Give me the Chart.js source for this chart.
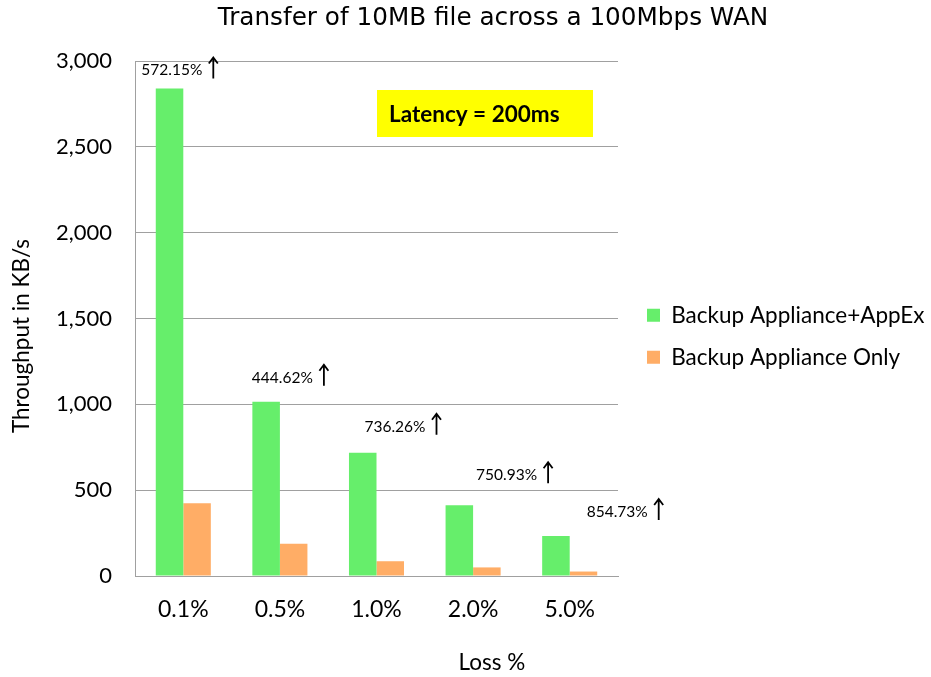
<!DOCTYPE html>
<html><head><meta charset="utf-8">
<script src="https://cdn.jsdelivr.net/npm/chart.js@4/dist/chart.umd.min.js"></script>
<style>html,body{margin:0;padding:0;background:#fff}</style>
</head><body>
<canvas id="c" width="931" height="677"></canvas>
<script>
// ---- data ----
const categories = ['0.1%', '0.5%', '1.0%', '2.0%', '5.0%'];
const withAppEx = [2840, 1015, 718, 412, 233];
const applianceOnly = [424, 188, 86, 50, 26];
const gainLabels = ['572.15%', '444.62%', '736.26%', '750.93%', '854.73%'];
const seriesNames = ['Backup Appliance+AppEx', 'Backup Appliance Only'];
const yTicks = [0, 500, 1000, 1500, 2000, 2500, 3000];
const chartTitle = 'Transfer of 10MB file across a 100Mbps WAN';
const yTitle = 'Throughput in KB/s';
const xTitle = 'Loss %';
const noteText = 'Latency = 200ms';

// ---- styling / layout ----
const GREEN = '#66ee6b';
const ORANGE = '#ffad66';
const GRID = '#a0a0a0';
const BODY_FONT = 'Lato, sans-serif';

Chart.defaults.font.family = BODY_FONT;
Chart.defaults.color = '#000';

const extras = {
  id: 'extras',
  afterLayout(chart, args, o) {
    const lg = chart.legend;
    if (lg) {
      const pad = lg.options.labels.padding;
      lg.left = o.legendX - pad; lg.right = chart.width;
      lg.top = o.legendY - pad; lg.bottom = chart.height;
    }
  },
  afterDraw(chart, args, o) {
    const c = chart.ctx, a = chart.chartArea;
    const xs = chart.scales.x, ys = chart.scales.y;
    c.save();
    c.fillStyle = '#000';
    c.textAlign = 'center'; c.textBaseline = 'middle';
    c.font = o.titleFont;
    c.fillText(chartTitle, o.titleX, o.titleY);
    c.font = o.axisFont;
    c.fillText(xTitle, o.xTitleX, o.xTitleY);
    c.save();
    c.translate(o.yTitleX, o.yTitleY);
    c.rotate(-Math.PI / 2);
    c.fillText(yTitle, 0, 0);
    c.restore();
    const bx = a.left + o.note.dx, by = a.top + o.note.dy;
    c.fillStyle = '#ffff00';
    c.fillRect(bx, by, o.note.w, o.note.h);
    c.fillStyle = '#000';
    c.font = o.noteFont;
    c.textAlign = 'left';
    c.fillText(noteText, bx + o.note.tx, by + o.note.h / 2 + 1);
    c.font = o.gainFont;
    c.textAlign = 'right';
    c.strokeStyle = '#000';
    c.lineWidth = 1.8;
    gainLabels.forEach((t, i) => {
      const x = xs.getPixelForValue(i) + o.gainDx[i];
      const y = ys.getPixelForValue(withAppEx[i]) + o.gainDy[i];
      c.fillText(t, x, y);
      const ax = x + 11;
      c.beginPath();
      c.moveTo(ax, y + 8); c.lineTo(ax, y - 12);
      c.moveTo(ax - 4.5, y - 7); c.lineTo(ax, y - 13); c.lineTo(ax + 4.5, y - 7);
      c.stroke();
    });
    c.restore();
  }
};

new Chart(document.getElementById('c'), {
  type: 'bar',
  data: {
    labels: categories,
    datasets: [
      { label: seriesNames[0], data: withAppEx, backgroundColor: GREEN, borderWidth: 0 },
      { label: seriesNames[1], data: applianceOnly, backgroundColor: ORANGE, borderWidth: 0 }
    ]
  },
  options: {
    responsive: false,
    devicePixelRatio: 1,
    animation: false,
    layout: { padding: { top: 61, right: 313, bottom: 0, left: 0 } },
    datasets: { bar: { categoryPercentage: 0.57, barPercentage: 1 } },
    scales: {
      x: {
        afterFit: s => { s.height = 101; },
        grid: { display: false },
        border: { display: true, color: GRID, width: 1 },
        ticks: { padding: 12, font: { size: 23 }, color: '#000' }
      },
      y: {
        min: yTicks[0], max: yTicks[yTicks.length - 1],
        afterBuildTicks: s => { s.ticks = yTicks.map(v => ({ value: v })); },
        afterFit: s => { s.width = 135; },
        grid: { color: GRID, drawTicks: false },
        border: { display: true, color: GRID, width: 1 },
        ticks: { padding: 23, font: { size: 22 }, color: '#000', callback: v => v.toLocaleString('en-US') }
      }
    },
    plugins: {
      legend: {
        position: 'chartArea',
        align: 'start',
        labels: { boxWidth: 13, boxHeight: 13, padding: 19.5, font: { size: 22.5 }, color: '#000' }
      },
      tooltip: { enabled: false },
      extras: {
        legendX: 647, legendY: 304,
        titleFont: '24.7px "DejaVu Sans"', titleX: 493, titleY: 19,
        axisFont: '22.5px Lato', xTitleX: 492, xTitleY: 663, yTitleX: 22, yTitleY: 336,
        noteFont: 'bold 22.5px Lato',
        note: { dx: 242, dy: 29, w: 216, h: 47, tx: 12 },
        gainFont: '15.5px Lato',
        gainDx: [19, 33, 49, 64, 78],
        gainDy: [-18, -24, -26, -30, -24]
      }
    }
  },
  plugins: [extras]
});
</script>
</body></html>
